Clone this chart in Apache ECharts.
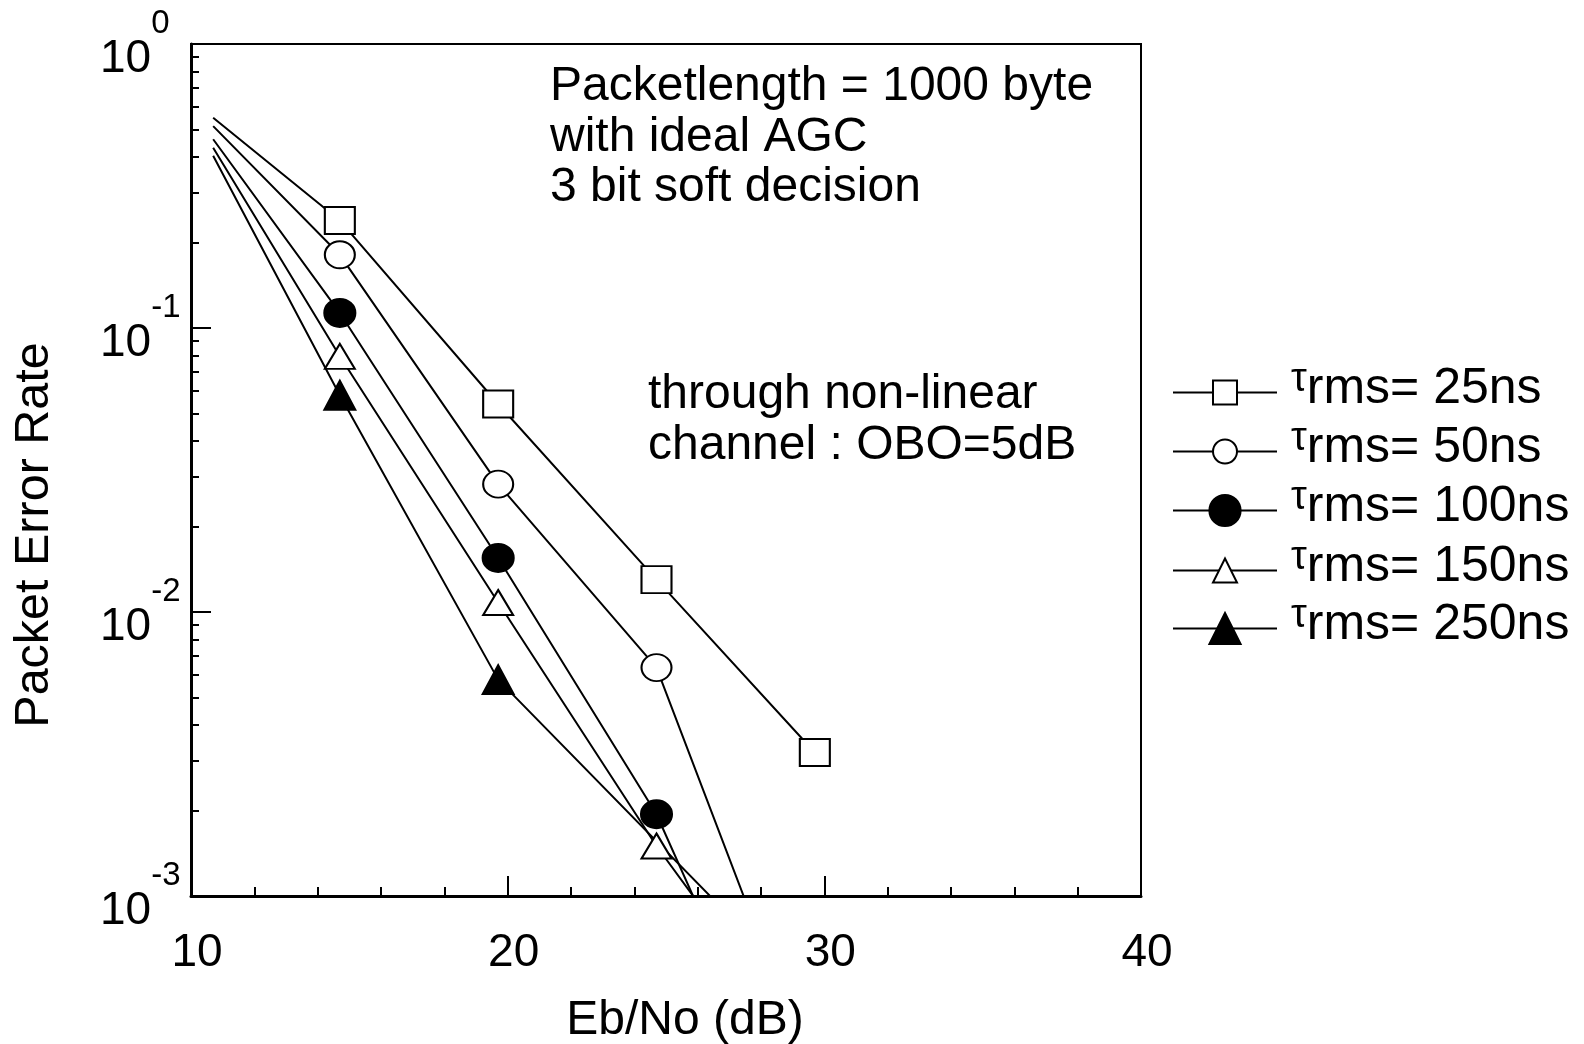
<!DOCTYPE html>
<html><head><meta charset="utf-8">
<script src="https://cdn.jsdelivr.net/npm/echarts@6/dist/echarts.min.js"></script>
<style>html,body{margin:0;padding:0;background:#fff}#c{width:1584px;height:1044px}</style>
</head><body><div id="c"></div>
<script>
// ---- data ----
const ebNo = [10.7, 14.7, 19.7, 24.7, 29.7];
const per25  = [0.55, 0.239, 0.054, 0.0130, 0.0032];
const per50  = [0.514, 0.181, 0.0282, 0.00637, 0.00022];
const per100 = [0.462, 0.113, 0.0155, 0.00194, 0.00011];
const per150 = [0.431, 0.0795, 0.0108, 0.0015, 0.00026];
const per250 = [0.404, 0.058, 0.00578, null, 0.00042];
const seriesNames = ['25ns', '50ns', '100ns', '150ns', '250ns'];
const xTicks = [10, 20, 30, 40];
const yMajor = [0.001, 0.01, 0.1, 1];
const yMinor = [0.002,0.003,0.004,0.005,0.006,0.007,0.008,0.009,
                0.02,0.03,0.04,0.05,0.06,0.07,0.08,0.09,
                0.2,0.3,0.4,0.5,0.6,0.7,0.8,0.9];
const noteLines1 = ['Packetlength = 1000 byte', 'with ideal AGC', '3 bit soft decision'];
const noteLines2 = ['through non-linear', 'channel : OBO=5dB'];

const FONT = '"Liberation Sans", Arial, sans-serif';

function mk(name, vals, symbol, size, filled) {
  const data = [];
  vals.forEach((v, i) => {
    if (v == null) return;
    const item = { value: [ebNo[i], v] };
    if (i === 0 || v < 0.001) item.symbol = 'none';
    data.push(item);
  });
  return {
    name, type: 'line', data, symbol, symbolSize: size, clip: true,
    showAllSymbol: true,
    lineStyle: { color: '#000', width: 2 },
    itemStyle: { color: filled ? '#000' : '#fff', borderColor: '#000', borderWidth: 2 },
    emphasis: { disabled: true }
  };
}

const series = [
  mk(seriesNames[0], per25, 'rect', [30, 27], false),
  mk(seriesNames[1], per50, 'circle', [30, 27], false),
  mk(seriesNames[2], per100, 'circle', [31, 28], true),
  mk(seriesNames[3], per150, 'triangle', [30, 25], false),
  mk(seriesNames[4], per250, 'triangle', [31, 29], true)
];

const legendRows = [390, 449, 508, 568, 626];
const legendIconH = [30, 30, 39, 30, 39];
const legends = seriesNames.map((n, i) => ({
  data: [n], orient: 'vertical', left: 1172, top: legendRows[i] - 30.5,
  padding: 0, itemGap: 0, itemWidth: 104, itemHeight: legendIconH[i],
  selectedMode: false,
  formatter: name => '{t|τ}{r|rms= ' + name + '}',
  textStyle: {
    color: '#000', padding: [0, 0, 6, 0],
    rich: {
      t: { fontFamily: FONT, fontSize: 40, lineHeight: 40, padding: [0, 0, 15, 9], verticalAlign: 'bottom', color: '#000' },
      r: { fontFamily: FONT, fontSize: 50, lineHeight: 50, verticalAlign: 'bottom', color: '#000' }
    }
  }
}));

const graphics = [];
noteLines1.forEach((t, i) => graphics.push({
  type: 'text', left: 550, top: 87 + i * 50.5 - 24, silent: true,
  style: { text: t, fill: '#000', font: '48px ' + FONT }
}));
noteLines2.forEach((t, i) => graphics.push({
  type: 'text', left: 648, top: 395 + i * 50.5 - 24, silent: true,
  style: { text: t, fill: '#000', font: '48px ' + FONT }
}));
graphics.push({
  type: 'text', x: 685, y: 1021, silent: true,
  style: { text: 'Eb/No (dB)', fill: '#000', font: '48px ' + FONT, align: 'center', verticalAlign: 'middle', textAlign: 'center', textVerticalAlign: 'middle' }
});
graphics.push({
  type: 'text', x: 35, y: 535, rotation: Math.PI / 2, silent: true,
  style: { text: 'Packet Error Rate', fill: '#000', font: '48.5px ' + FONT, align: 'center', verticalAlign: 'middle', textAlign: 'center', textVerticalAlign: 'middle' }
});

const chart = echarts.init(document.getElementById('c'), null, { renderer: 'canvas' });
chart.setOption({
  animation: false,
  backgroundColor: '#fff',
  grid: { left: 191, top: 44, right: 443, bottom: 148, containLabel: false, outerBoundsMode: 'none',
          show: true, borderColor: '#000', borderWidth: 2, backgroundColor: 'transparent' },
  xAxis: {
    type: 'value', min: 10, max: 40, interval: 10,
    axisLine: { show: true, onZero: false, lineStyle: { color: '#000', width: 3 } },
    axisTick: { show: true, inside: true, length: 20, lineStyle: { color: '#000', width: 2 } },
    minorTick: { show: true, splitNumber: 5, length: 9, lineStyle: { color: '#000', width: 2 } },
    axisLabel: { color: '#000', fontFamily: FONT, fontSize: 46, margin: 34, padding: [0, 0, 0, 12],
                 formatter: v => (xTicks.indexOf(v) >= 0 ? String(v) : '') },
    splitLine: { show: false }
  },
  yAxis: [{
    type: 'log', logBase: 10, min: 0.001, max: 1,
    axisLine: { show: true, onZero: false, lineStyle: { color: '#000', width: 3 } },
    axisTick: { show: true, inside: true, length: 20, customValues: yMajor, lineStyle: { color: '#000', width: 2 } },
    axisLabel: {
      show: true, customValues: yMajor, align: 'left', margin: 91, padding: [30, 0, 0, 0],
      formatter: v => '{b|10}{s|' + Math.round(Math.log10(v)) + '}',
      rich: {
        b: { fontFamily: FONT, fontSize: 46, lineHeight: 46, verticalAlign: 'bottom', color: '#000' },
        s: { fontFamily: FONT, fontSize: 33, lineHeight: 33, padding: [0, 0, 42, 0], verticalAlign: 'bottom', color: '#000' }
      }
    },
    splitLine: { show: false }, minorTick: { show: false }
  }, {
    type: 'log', logBase: 10, min: 0.001, max: 1, position: 'left',
    axisLine: { show: false },
    axisTick: { show: true, inside: true, length: 8, customValues: yMinor, lineStyle: { color: '#000', width: 2 } },
    axisLabel: { show: false },
    splitLine: { show: false }
  }],
  legend: legends,
  graphic: graphics,
  series
});
</script></body></html>
